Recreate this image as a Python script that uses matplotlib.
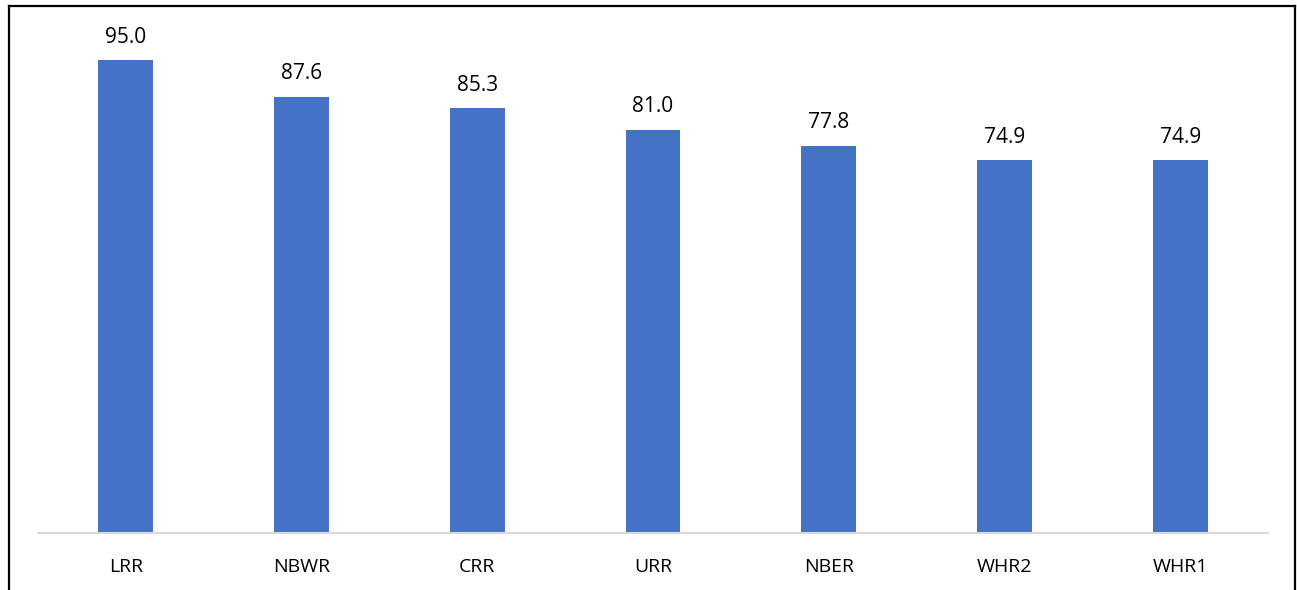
import matplotlib
matplotlib.use("Agg")
import matplotlib.pyplot as plt
from matplotlib.lines import Line2D

categories = ["LRR", "NBWR", "CRR", "URR", "NBER", "WHR2", "WHR1"]
values = [95.0, 87.6, 85.3, 81.0, 77.8, 74.9, 74.9]

plt.rcParams['font.family'] = ['Open Sans', 'DejaVu Sans']

W, H = 1297, 590
fig = plt.figure(figsize=(W / 100, H / 100), dpi=100)
ax = fig.add_axes([38 / W, (H - 533) / H, (1268 - 38) / W, (533 - 35.1) / H])

x = list(range(len(categories)))
bars = ax.bar(x, values, width=0.313, color="#4472C4")
ax.set_xlim(-0.5, len(categories) - 0.5)
ax.set_ylim(0, 100)

for xi, v in zip(x, values):
    ax.annotate(f"{v:.1f}", (xi, v), xytext=(0, 12.5), textcoords="offset points",
                ha="center", va="baseline", fontsize=15, color="#000000")

ax.set_xticks(x)
ax.set_xticklabels(categories, fontsize=14, color="#000000")
ax.tick_params(axis="x", length=0, pad=18)
ax.set_yticks([])
for s in ["top", "right", "left"]:
    ax.spines[s].set_visible(False)
ax.spines["bottom"].set_color("#D9D9D9")
ax.spines["bottom"].set_linewidth(1.5)

# outer frame (left, top, right)
fig.add_artist(Line2D([9 / W, 9 / W], [0, 1 - 6 / H], transform=fig.transFigure, color="black", lw=1.6))
fig.add_artist(Line2D([9 / W, 1295 / W], [1 - 6 / H, 1 - 6 / H], transform=fig.transFigure, color="black", lw=1.6))
fig.add_artist(Line2D([1295 / W, 1295 / W], [0, 1 - 6 / H], transform=fig.transFigure, color="black", lw=1.6))

fig.savefig("out.png", dpi=100)
